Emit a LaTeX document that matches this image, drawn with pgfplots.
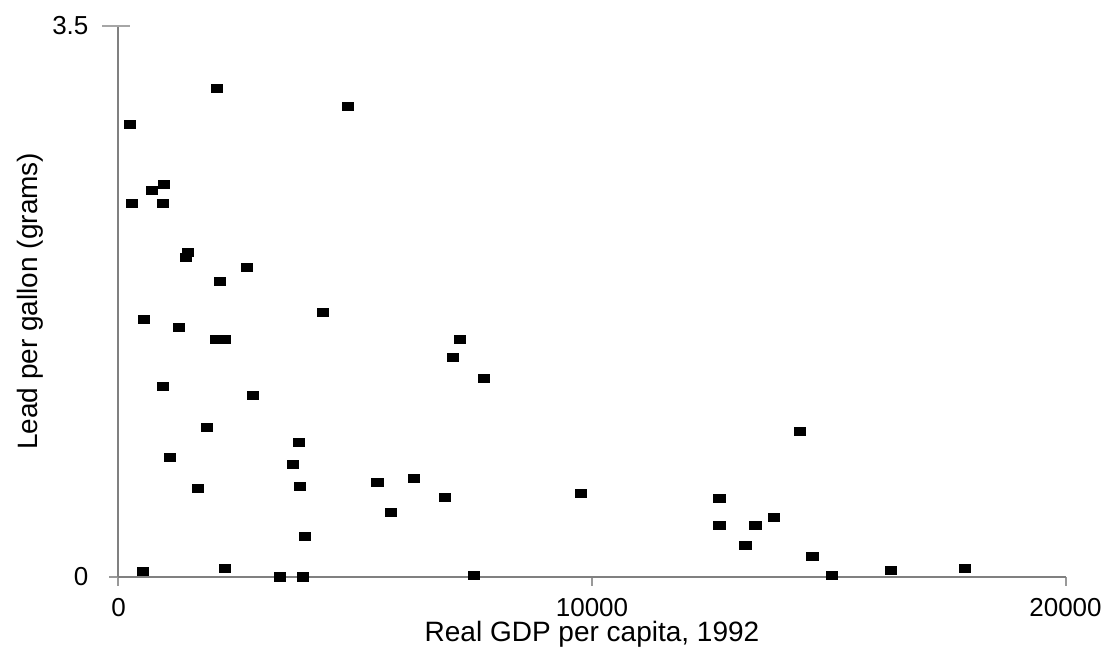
\documentclass[border=0pt]{standalone}
\usepackage{fontspec}
\setmainfont{Liberation Sans}
\usepackage{pgfplots}
\usepackage{pgfplotstable}
\pgfplotsset{compat=1.18}
\pgfplotstableread{
x y
243 2.877
285 2.374
2080 3.106
4847 2.991
708 2.457
961 2.495
940 2.374
1468 2.063
1426 2.031
2714 1.968
2144 1.879
4319 1.682
539 1.637
1278 1.586
2059 1.510
2249 1.510
7212 1.510
7065 1.395
7719 1.262
940 1.211
2841 1.154
1869 0.950
3812 0.855
1088 0.760
3685 0.715
5460 0.601
6241 0.626
3833 0.575
1679 0.563
6896 0.505
9768 0.531
5755 0.410
3939 0.257
517 0.035
2249 0.054
3411 0.000
3897 0.000
7508 0.010
12683 0.499
12683 0.327
13443 0.327
13844 0.378
13232 0.200
14393 0.925
14647 0.130
15069 0.010
16315 0.041
17878 0.054
}\leaddata
\begin{document}
\begin{tikzpicture}
\begin{axis}[
  scale only axis,
  width=473.5pt, height=275.25pt,
  xmin=0, xmax=20000, ymin=0, ymax=3.5,
  axis lines*=left,
  axis line style={draw=black!50, line width=1pt},
  xtick={0,10000,20000}, xticklabels={0,10000,20000},
  ytick={0,3.5}, yticklabels={0,3.5},
  scaled x ticks=false, scaled y ticks=false,
  tick align=outside,
  major tick length=4.5pt,
  tick style={draw=black!40, line width=1pt},
  clip=false,
  tick label style={font=\fontsize{13}{15}\selectfont},
  xticklabel style={yshift=-3pt},
  yticklabel style={xshift=-7pt},
  xlabel={Real GDP per capita, 1992},
  ylabel={Lead per gallon (grams)},
  label style={font=\fontsize{14}{16}\selectfont},
  xlabel style={at={(axis description cs:0.5,-0.1045)}, anchor=center},
  ylabel style={at={(axis description cs:-0.0935,0.5)}, anchor=center},
  /pgf/number format/assume math mode=true,
]
\addplot[only marks, mark=square*, mark size=2.1pt,
  mark options={xscale=1.35, fill=black, draw=black, line width=0.2pt}]
  table[x=x, y=y] {\leaddata};
\draw[black!35, line width=1.3pt] (axis cs:0,3.5) -- ++(6pt,0);
\draw[black!35, line width=1.3pt] (axis cs:0,3.5) -- ++(-8pt,0);
\coordinate (SW) at (rel axis cs:0,0);
\coordinate (NE) at (rel axis cs:1,1);
\end{axis}
\pgfresetboundingbox
\path[use as bounding box] ([xshift=-59.25pt,yshift=-41.25pt]SW) rectangle ([xshift=18.75pt,yshift=13pt]NE);
\end{tikzpicture}
\end{document}
